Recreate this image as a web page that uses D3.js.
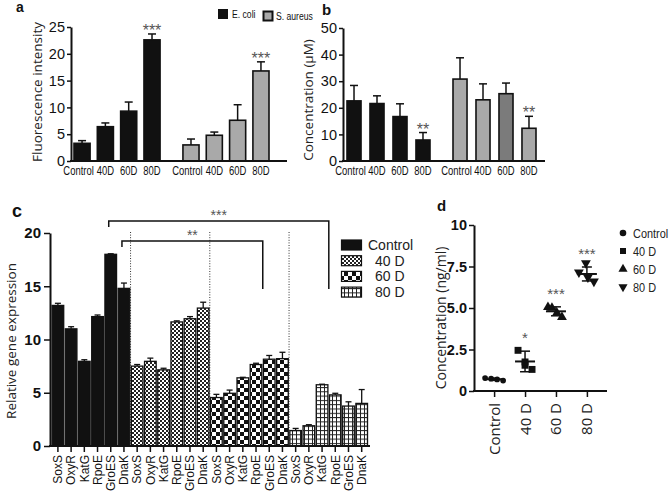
<!DOCTYPE html>
<html><head><meta charset="utf-8">
<script src="https://cdn.jsdelivr.net/npm/d3@7/dist/d3.min.js"></script>
<style>body{margin:0;background:#fff} svg{display:block}</style>
</head><body>
<svg id="chart" width="671" height="495"></svg>
<script>
// ---------- DATA ----------
// Panel a
const aGroups = ["E. coli", "S. aureus"];
const aConditions = ["Control", "40D", "60D", "80D"];
const aEcoliMean = [3.3, 6.4, 9.3, 22.6];
const aEcoliErr = [0.5, 0.7, 1.7, 1.1];
const aSaureusMean = [3.0, 4.8, 7.6, 16.8];
const aSaureusErr = [1.1, 0.6, 2.9, 1.7];
const aEcoliStars = ["", "", "", "***"];
const aSaureusStars = ["", "", "", "***"];
const aTicks = [0, 5, 10, 15, 20, 25];
// Panel b
const bConditions = ["Control", "40D", "60D", "80D"];
const bEcoliMean = [22.6, 21.6, 16.7, 7.9];
const bEcoliErr = [5.8, 2.9, 4.8, 2.8];
const bSaureusMean = [30.8, 23.0, 25.3, 12.3];
const bSaureusErr = [8.0, 6.0, 4.0, 4.5];
const bEcoliStars = ["", "", "", "**"];
const bSaureusStars = ["", "", "", "**"];
const bTicks = [0, 10, 20, 30, 40, 50];
// Panel c
const cGenes = ["SoxS", "OxyR", "KatG", "RpoE", "GroES", "DnaK"];
const cTreatments = ["Control", "40 D", "60 D", "80 D"];
const cControl = [13.2, 11.0, 7.95, 12.15, 18.0, 14.8];
const cControlErr = [0.2, 0.2, 0.15, 0.15, 0.05, 0.5];
const c40D = [7.5, 7.95, 7.15, 11.65, 11.95, 12.95];
const c40DErr = [0.15, 0.3, 0.15, 0.1, 0.2, 0.55];
const c60D = [4.55, 4.95, 6.4, 7.65, 8.15, 8.2];
const c60DErr = [0.3, 0.3, 0.05, 0.12, 0.35, 0.6];
const c80D = [1.45, 1.9, 5.75, 4.8, 3.75, 4.0];
const c80DErr = [0.2, 0.1, 0.05, 0.15, 0.4, 1.3];
const cTicks = [0, 5, 10, 15, 20];
// brackets: [from treatment, from gene, to treatment, to gene, label]
const cBrackets = [["Control", "GroES", "80 D", "KatG", "***"], ["Control", "DnaK", "60 D", "RpoE", "**"]];
// Panel d
const dGroups = ["Control", "40 D", "60 D", "80 D"];
const dControl = [0.78, 0.74, 0.70, 0.63];
const d40D = [2.45, 1.75, 1.55, 1.3];
const d60D = [5.05, 5.0, 4.7, 4.45];
const d80D = [7.15, 7.7, 6.85, 6.6];
const dMean = [0.71, 1.78, 4.8, 7.05];
const dSD = [0.07, 0.62, 0.27, 0.42];
const dStars = ["", "*", "***", "***"];
const dTicks = [0, 2.5, 5, 7.5, 10];
const dTickLabels = ["0", "2.5", "5.0", "7.5", "10"];

// ---------- SETUP ----------
const svg = d3.select("#chart");
svg.append("rect").attr("width", 671).attr("height", 495).attr("fill", "#fff");
const OPEN = "'Open Sans',sans-serif";
const ARIAL = "'Liberation Sans',Arial,sans-serif";
const STAR = "#555";

// condensed text helper (horizontal squeeze of Liberation Sans)
function ntext(g, x, y, str, size, sx, anchor, fill) {
  return g.append("text").attr("transform", `translate(${x},${y}) scale(${sx},1)`)
    .attr("text-anchor", anchor || "start").attr("font-family", ARIAL).attr("font-size", size)
    .attr("fill", fill || "#111").text(str);
}
function panelLetter(t, x, y, size) {
  svg.append("text").attr("x", x).attr("y", y).text(t)
    .attr("font-family", ARIAL).attr("font-weight", "bold").attr("font-size", size).attr("fill", "#111");
}
function styleAxis(g, w) {
  g.select(".domain").attr("stroke", "#111").attr("stroke-width", w);
  g.selectAll(".tick line").attr("stroke", "#111").attr("stroke-width", 1.5);
}

// ---------- grouped bar panels (a, b) ----------
function groupedPanel(o) {
  const y = d3.scaleLinear().domain([0, o.max]).range([o.yBot, o.yTop]);
  const outer = d3.scaleBand().domain(o.groups).range(o.outerRange).paddingInner(o.outerPad).paddingOuter(0);
  const inner = d3.scaleBand().domain(o.conditions).range([0, outer.bandwidth()]).paddingInner(o.innerPad).paddingOuter(0);
  const g = svg.append("g");
  o.series.forEach((s, si) => {
    const gx = outer(o.groups[si]);
    o.conditions.forEach((c, i) => {
      const x = gx + inner(c), w = inner.bandwidth(), cx = x + w / 2;
      const top = y(s.means[i]), et = y(s.means[i] + s.errs[i]);
      g.append("line").attr("x1", cx).attr("x2", cx).attr("y1", top).attr("y2", et)
        .attr("stroke", "#111").attr("stroke-width", 1.5);
      g.append("line").attr("x1", cx - o.cap).attr("x2", cx + o.cap).attr("y1", et).attr("y2", et)
        .attr("stroke", "#111").attr("stroke-width", 1.5);
      g.append("rect").attr("x", x).attr("y", top).attr("width", w).attr("height", y(0) - top)
        .attr("fill", s.fills[i]).attr("stroke", "#111").attr("stroke-width", 1.6);
      if (s.stars[i]) {
        g.append("text").attr("x", cx).attr("y", et + 2).attr("text-anchor", "middle")
          .attr("font-family", ARIAL).attr("font-size", 16).attr("fill", STAR).text(s.stars[i]);
      }
      ntext(g, cx + (i === 0 ? -3.5 : 0), o.yBot + 14, c, 13.5, 0.7, "middle");
    });
  });
  const ax = g.append("g").attr("transform", `translate(${o.axisX},0)`)
    .call(d3.axisLeft(y).tickValues(o.ticks).tickSize(4).tickSizeOuter(0).tickPadding(2));
  styleAxis(ax, 2);
  ax.selectAll(".tick text").attr("font-family", ARIAL).attr("font-size", 14.5).attr("fill", "#111");
  g.append("line").attr("x1", o.axisX - 1).attr("x2", o.xEnd).attr("y1", o.yBot).attr("y2", o.yBot)
    .attr("stroke", "#111").attr("stroke-width", 2);
  g.append("text").attr("transform", `translate(${o.titleX},${o.titleY}) rotate(-90)`)
    .attr("text-anchor", "middle").attr("font-family", OPEN).attr("font-size", 13.5).attr("fill", "#222").text(o.title);
}

groupedPanel({
  groups: aGroups, conditions: aConditions, max: 25, ticks: aTicks,
  yTop: 27, yBot: 161, outerRange: [74, 269], outerPad: 0.21, innerPad: 0.31, cap: 4,
  axisX: 71, xEnd: 287, title: "Fluorescence intensity", titleX: 42, titleY: 92,
  series: [
    { means: aEcoliMean, errs: aEcoliErr, stars: aEcoliStars, fills: ["#111", "#111", "#111", "#111"] },
    { means: aSaureusMean, errs: aSaureusErr, stars: aSaureusStars, fills: ["#a9a9a9", "#a9a9a9", "#a9a9a9", "#a9a9a9"] }
  ]
});
groupedPanel({
  groups: aGroups, conditions: bConditions, max: 50, ticks: bTicks,
  yTop: 28, yBot: 161, outerRange: [347, 536], outerPad: 0.217, innerPad: 0.39, cap: 4,
  axisX: 343, xEnd: 545, title: "Concentration (\u00b5M)", titleX: 313, titleY: 100,
  series: [
    { means: bEcoliMean, errs: bEcoliErr, stars: bEcoliStars, fills: ["#111", "#111", "#111", "#111"] },
    { means: bSaureusMean, errs: bSaureusErr, stars: bSaureusStars, fills: ["#a9a9a9", "#a9a9a9", "#7b7b7b", "#a9a9a9"] }
  ]
});
// legend a
const legA = svg.append("g");
legA.append("rect").attr("x", 218).attr("y", 9).attr("width", 10).attr("height", 10).attr("fill", "#111");
ntext(legA, 232, 18, aGroups[0], 11.5, 0.75);
legA.append("rect").attr("x", 263.5).attr("y", 11.5).attr("width", 9).attr("height", 9).attr("fill", "#a9a9a9").attr("stroke", "#111").attr("stroke-width", 2);
ntext(legA, 276, 20, aGroups[1], 11.5, 0.75);
panelLetter("a", 16, 12, 14);
panelLetter("b", 322, 15, 15);

// ---------- panel c ----------
const defs = svg.append("defs");
const p40 = defs.append("pattern").attr("id", "p40").attr("patternUnits", "userSpaceOnUse").attr("width", 4).attr("height", 4);
p40.append("rect").attr("width", 4).attr("height", 4).attr("fill", "#fff");
p40.append("rect").attr("width", 2).attr("height", 2).attr("fill", "#222");
p40.append("rect").attr("x", 2).attr("y", 2).attr("width", 2).attr("height", 2).attr("fill", "#222");
const p60 = defs.append("pattern").attr("id", "p60").attr("patternUnits", "userSpaceOnUse").attr("width", 8).attr("height", 8);
p60.append("rect").attr("width", 8).attr("height", 8).attr("fill", "#fff");
p60.append("rect").attr("width", 4).attr("height", 4).attr("fill", "#111");
p60.append("rect").attr("x", 4).attr("y", 4).attr("width", 4).attr("height", 4).attr("fill", "#111");
const p80 = defs.append("pattern").attr("id", "p80").attr("patternUnits", "userSpaceOnUse").attr("width", 4).attr("height", 4.3);
p80.append("rect").attr("width", 4).attr("height", 4.3).attr("fill", "#fff");
p80.append("rect").attr("width", 4).attr("height", 1).attr("fill", "#222");
p80.append("rect").attr("width", 1).attr("height", 4.3).attr("fill", "#222");
const cFills = { "Control": "#111", "40 D": "url(#p40)", "60 D": "url(#p60)", "80 D": "url(#p80)" };
const cSeries = { "Control": [cControl, cControlErr], "40 D": [c40D, c40DErr], "60 D": [c60D, c60DErr], "80 D": [c80D, c80DErr] };

const cy = d3.scaleLinear().domain([0, 20]).range([446, 233]);
const cKeys = [];
cTreatments.forEach(t => cGenes.forEach(gn => cKeys.push(t + "|" + gn)));
const cx = d3.scaleBand().domain(cKeys).range([51.3, 368.3]).paddingInner(0.12).paddingOuter(0.06);
const gc = svg.append("g");
// dotted separators
for (let k = 1; k < cTreatments.length; k++) {
  const a = cx(cTreatments[k - 1] + "|" + cGenes[cGenes.length - 1]) + cx.bandwidth();
  const b = cx(cTreatments[k] + "|" + cGenes[0]);
  const xm = (a + b) / 2;
  gc.append("line").attr("x1", xm).attr("x2", xm).attr("y1", 232).attr("y2", 446)
    .attr("stroke", "#333").attr("stroke-width", 1).attr("stroke-dasharray", "1,1.6");
}
cTreatments.forEach(t => {
  const [vals, errs] = cSeries[t];
  cGenes.forEach((gn, i) => {
    const key = t + "|" + gn, x = cx(key), w = cx.bandwidth(), mx = x + w / 2;
    const top = cy(vals[i]), et = cy(vals[i] + errs[i]);
    gc.append("line").attr("x1", mx).attr("x2", mx).attr("y1", top).attr("y2", et).attr("stroke", "#111").attr("stroke-width", 1.3);
    gc.append("line").attr("x1", mx - 3).attr("x2", mx + 3).attr("y1", et).attr("y2", et).attr("stroke", "#111").attr("stroke-width", 1.3);
    gc.append("rect").attr("x", x).attr("y", top).attr("width", w).attr("height", cy(0) - top)
      .attr("fill", cFills[t]).attr("stroke", "#111").attr("stroke-width", 1.3);
    gc.append("line").attr("x1", mx).attr("x2", mx).attr("y1", 446).attr("y2", 452).attr("stroke", "#111").attr("stroke-width", 1.5);
    gc.append("text").attr("transform", `translate(${mx + 4.3},455) rotate(-90)`).attr("text-anchor", "end")
      .attr("font-family", ARIAL).attr("font-size", 12).attr("fill", "#111").text(gn);
  });
});
const cax = gc.append("g").attr("transform", "translate(50,0)")
  .call(d3.axisLeft(cy).tickValues(cTicks).tickSize(6).tickSizeOuter(0).tickPadding(3));
styleAxis(cax, 2);
cax.selectAll(".tick text").attr("font-family", ARIAL).attr("font-weight", "bold").attr("font-size", 15).attr("fill", "#111");
gc.append("line").attr("x1", 49).attr("x2", 370).attr("y1", 446).attr("y2", 446).attr("stroke", "#111").attr("stroke-width", 2);
gc.append("text").attr("transform", "translate(16,341) rotate(-90)").attr("text-anchor", "middle")
  .attr("font-family", OPEN).attr("font-size", 13.5).attr("fill", "#222").text("Relative gene expression");
// brackets
const bracketY = [221, 241], bracketDrop = 289;
cBrackets.forEach((br, k) => {
  const x1 = cx(br[0] + "|" + br[1]) + cx.bandwidth() / 2 - 2;
  const x2 = cx(br[2] + "|" + br[3]) + cx.step() * 0.95;
  const yb = bracketY[k];
  gc.append("path").attr("d", `M${x1},${yb + 6}V${yb}H${x2}V${bracketDrop}`)
    .attr("fill", "none").attr("stroke", "#111").attr("stroke-width", 1.5);
  gc.append("text").attr("x", (x1 + x2) / 2).attr("y", yb - 1).attr("text-anchor", "middle")
    .attr("font-family", ARIAL).attr("font-size", 14).attr("fill", STAR).text(br[4]);
});
// legend c
cTreatments.forEach((t, i) => {
  const yy = 240 + i * 15.7;
  gc.append("rect").attr("x", 341.5).attr("y", yy).attr("width", 20).attr("height", 10)
    .attr("fill", cFills[t]).attr("stroke", "#111").attr("stroke-width", 1.2);
  gc.append("text").attr("x", t === "Control" ? 368 : 375).attr("y", yy + 10).attr("font-family", ARIAL)
    .attr("font-size", 14).attr("fill", "#222").text(t);
});
panelLetter("c", 12, 217, 18);

// ---------- panel d ----------
const dy = d3.scaleLinear().domain([0, 10]).range([391, 225]);
const dx = d3.scalePoint().domain(dGroups).range([474, 607]).padding(0.65);
const gd = svg.append("g");
const dPts = [dControl, d40D, d60D, d80D];
const symbols = [
  { type: d3.symbolCircle, size: 26, rot: 0 },
  { type: d3.symbolSquare, size: 48, rot: 0 },
  { type: d3.symbolTriangle, size: 42, rot: 0 },
  { type: d3.symbolTriangle, size: 42, rot: 180 }
];
const jitter = [[-9, -3, 3, 9], [-7, 0, 0, 7], [-8, -4, 1, 6], [-8, -1, 1, 7]];
dGroups.forEach((gname, gi) => {
  const x0 = dx(gname);
  const sym = symbols[gi];
  dPts[gi].forEach((v, j) => {
    gd.append("path").attr("d", d3.symbol().type(sym.type).size(sym.size)())
      .attr("transform", `translate(${x0 + jitter[gi][j]},${dy(v)}) rotate(${sym.rot})`).attr("fill", "#111");
  });
  const m = dy(dMean[gi]), hi = dy(dMean[gi] + dSD[gi]), lo = dy(dMean[gi] - dSD[gi]);
  gd.append("line").attr("x1", x0 - 10).attr("x2", x0 + 10).attr("y1", m).attr("y2", m).attr("stroke", "#111").attr("stroke-width", 2);
  gd.append("line").attr("x1", x0).attr("x2", x0).attr("y1", hi).attr("y2", lo).attr("stroke", "#111").attr("stroke-width", 1.5);
  gd.append("line").attr("x1", x0 - 5).attr("x2", x0 + 5).attr("y1", hi).attr("y2", hi).attr("stroke", "#111").attr("stroke-width", 1.5);
  gd.append("line").attr("x1", x0 - 5).attr("x2", x0 + 5).attr("y1", lo).attr("y2", lo).attr("stroke", "#111").attr("stroke-width", 1.5);
  if (dStars[gi]) {
    gd.append("text").attr("x", x0).attr("y", hi - 8).attr("text-anchor", "middle")
      .attr("font-family", ARIAL).attr("font-size", 15).attr("fill", STAR).text(dStars[gi]);
  }
});
const day = gd.append("g").attr("transform", "translate(474,0)")
  .call(d3.axisLeft(dy).tickValues(dTicks).tickFormat((d, i) => dTickLabels[i]).tickSize(5).tickSizeOuter(0).tickPadding(2));
styleAxis(day, 2);
day.selectAll(".tick text").attr("font-family", ARIAL).attr("font-weight", "bold").attr("font-size", 14.5).attr("fill", "#111");
const dax = gd.append("g").attr("transform", "translate(0,391)")
  .call(d3.axisBottom(dx).tickSize(6).tickSizeOuter(0));
dax.select(".domain").remove();
dax.selectAll(".tick line").attr("stroke", "#111").attr("stroke-width", 1.5);
dax.selectAll(".tick text").attr("transform", "translate(5,12) rotate(-90)").attr("text-anchor", "end")
  .attr("dy", 0).attr("y", 0).attr("x", 0)
  .attr("font-family", OPEN).attr("font-size", 15).attr("fill", "#222");
gd.append("line").attr("x1", 473).attr("x2", 607).attr("y1", 391).attr("y2", 391).attr("stroke", "#111").attr("stroke-width", 2);
gd.append("text").attr("transform", "translate(446,318) rotate(-90)").attr("text-anchor", "middle")
  .attr("font-family", OPEN).attr("font-size", 14).attr("fill", "#222").text("Concentration (ng/ml)");
// legend d
dGroups.forEach((gname, gi) => {
  const yy = 233 + gi * 18;
  const sym = symbols[gi];
  gd.append("path").attr("d", d3.symbol().type(sym.type).size(gi === 0 ? 34 : 36)())
    .attr("transform", `translate(623,${yy}) rotate(${sym.rot})`).attr("fill", "#111");
  ntext(gd, 633, yy + 5, gname, 13, 0.84, "start", "#222");
});
panelLetter("d", 437, 211, 15);
</script>
</body></html>
